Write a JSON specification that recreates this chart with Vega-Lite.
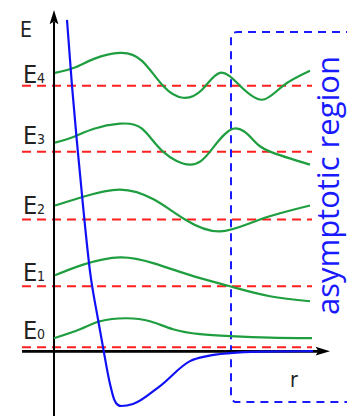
{
  "$schema": "https://vega.github.io/schema/vega-lite/v6.json",
  "width": 347,
  "height": 417,
  "autosize": {"type": "fit", "contains": "padding"},
  "padding": 0,
  "background": "white",
  "config": {"view": {"stroke": null}},
  "datasets": {
    "waves": [
      {"level": "E4", "r": 1, "E": 279}, {"level": "E4", "r": 20, "E": 284}, {"level": "E4", "r": 40, "E": 293}, {"level": "E4", "r": 66, "E": 299}, {"level": "E4", "r": 88, "E": 291}, {"level": "E4", "r": 109, "E": 266}, {"level": "E4", "r": 129, "E": 254}, {"level": "E4", "r": 148, "E": 262}, {"level": "E4", "r": 166, "E": 279}, {"level": "E4", "r": 186, "E": 266}, {"level": "E4", "r": 208, "E": 252}, {"level": "E4", "r": 229, "E": 266}, {"level": "E4", "r": 256, "E": 281},
      {"level": "E3", "r": 1, "E": 209}, {"level": "E3", "r": 20, "E": 215}, {"level": "E3", "r": 40, "E": 223}, {"level": "E3", "r": 66, "E": 228}, {"level": "E3", "r": 88, "E": 223}, {"level": "E3", "r": 109, "E": 200}, {"level": "E3", "r": 136, "E": 187}, {"level": "E3", "r": 156, "E": 200}, {"level": "E3", "r": 179, "E": 223}, {"level": "E3", "r": 199, "E": 212}, {"level": "E3", "r": 216, "E": 200}, {"level": "E3", "r": 256, "E": 187},
      {"level": "E2", "r": 1, "E": 146}, {"level": "E2", "r": 30, "E": 155}, {"level": "E2", "r": 66, "E": 162}, {"level": "E2", "r": 100, "E": 152}, {"level": "E2", "r": 131, "E": 132}, {"level": "E2", "r": 166, "E": 120}, {"level": "E2", "r": 206, "E": 132}, {"level": "E2", "r": 256, "E": 146},
      {"level": "E1", "r": 1, "E": 76}, {"level": "E1", "r": 30, "E": 87}, {"level": "E1", "r": 66, "E": 94}, {"level": "E1", "r": 100, "E": 88}, {"level": "E1", "r": 140, "E": 75}, {"level": "E1", "r": 176, "E": 65}, {"level": "E1", "r": 216, "E": 55}, {"level": "E1", "r": 256, "E": 50},
      {"level": "E0", "r": 0, "E": 13}, {"level": "E0", "r": 26, "E": 22}, {"level": "E0", "r": 46, "E": 30}, {"level": "E0", "r": 72, "E": 33}, {"level": "E0", "r": 96, "E": 30}, {"level": "E0", "r": 119, "E": 22}, {"level": "E0", "r": 146, "E": 17}, {"level": "E0", "r": 176, "E": 15}, {"level": "E0", "r": 216, "E": 13.5}, {"level": "E0", "r": 258, "E": 13}
    ],
    "potential": [
      {"r": 13, "E": 332}, {"r": 18, "E": 266}, {"r": 23, "E": 209}, {"r": 29, "E": 146}, {"r": 36, "E": 80}, {"r": 44, "E": 32}, {"r": 49, "E": 4}, {"r": 56, "E": -33}, {"r": 60, "E": -48}, {"r": 64, "E": -54}, {"r": 67, "E": -55}, {"r": 79, "E": -53}, {"r": 106, "E": -35}, {"r": 136, "E": -10}, {"r": 153, "E": -5}, {"r": 176, "E": -2}, {"r": 206, "E": -0.5}, {"r": 259, "E": 0}
    ],
    "levels": [
      {"level": "E4", "E": 266, "sub": "4", "labelE": 269},
      {"level": "E3", "E": 200, "sub": "3", "labelE": 208},
      {"level": "E2", "E": 132, "sub": "2", "labelE": 137},
      {"level": "E1", "E": 65, "sub": "1", "labelE": 70},
      {"level": "E0", "E": 4, "sub": "0", "labelE": 12}
    ],
    "box": [
      {"i": 0, "r": 300, "E": 320}, {"i": 1, "r": 183, "E": 320}, {"i": 2, "r": 179, "E": 319}, {"i": 3, "r": 177, "E": 316}, {"i": 4, "r": 177, "E": -46}, {"i": 5, "r": 178, "E": -49}, {"i": 6, "r": 181, "E": -51}, {"i": 7, "r": 300, "E": -51}
    ]
  },
  "layer": [
    {
      "data": {"name": "levels"},
      "mark": {"type": "rule", "color": "#ff1f1f", "strokeWidth": 2, "strokeDash": [9, 6]},
      "encoding": {
        "x": {"datum": -32, "type": "quantitative", "scale": {"domain": [-54, 293], "nice": false, "zero": false}, "axis": null},
        "x2": {"datum": 258},
        "y": {"field": "E", "type": "quantitative", "scale": {"domain": [-65, 352], "nice": false, "zero": false}, "axis": null}
      }
    },
    {
      "data": {"name": "box"},
      "mark": {"type": "line", "color": "#1a1aff", "strokeWidth": 2, "strokeDash": [8, 6], "clip": true},
      "encoding": {
        "x": {"field": "r", "type": "quantitative"},
        "y": {"field": "E", "type": "quantitative"},
        "order": {"field": "i", "type": "quantitative"}
      }
    },
    {
      "data": {"name": "levels"},
      "mark": {"type": "rule", "color": "black", "strokeWidth": 2},
      "encoding": {
        "x": {"datum": 0, "type": "quantitative"},
        "y": {"datum": -65, "type": "quantitative"},
        "y2": {"datum": 330}
      }
    },
    {
      "data": {"name": "levels"},
      "mark": {"type": "rule", "color": "black", "strokeWidth": 2},
      "encoding": {
        "x": {"datum": -32, "type": "quantitative"},
        "x2": {"datum": 266},
        "y": {"datum": 0, "type": "quantitative"}
      }
    },
    {
      "data": {"values": [{"axis": "E"}]},
      "mark": {"type": "point", "filled": true, "color": "black", "opacity": 1, "size": 256, "shape": "M0,-1L0.55,0.8L0,0.45L-0.55,0.8Z"},
      "encoding": {
        "x": {"datum": 0, "type": "quantitative"},
        "y": {"datum": 334, "type": "quantitative"}
      }
    },
    {
      "data": {"values": [{"axis": "r"}]},
      "mark": {"type": "point", "filled": true, "color": "black", "opacity": 1, "size": 256, "shape": "M1,0L-0.8,-0.55L-0.45,0L-0.8,0.55Z"},
      "encoding": {
        "x": {"datum": 268, "type": "quantitative"},
        "y": {"datum": 0, "type": "quantitative"}
      }
    },
    {
      "data": {"name": "waves"},
      "mark": {"type": "line", "color": "#1f9e40", "strokeWidth": 2.2, "interpolate": "natural"},
      "encoding": {
        "x": {"field": "r", "type": "quantitative"},
        "y": {"field": "E", "type": "quantitative"},
        "detail": {"field": "level"}
      }
    },
    {
      "data": {"name": "potential"},
      "mark": {"type": "line", "color": "#1010f5", "strokeWidth": 2.2, "interpolate": "monotone"},
      "encoding": {
        "x": {"field": "r", "type": "quantitative"},
        "y": {"field": "E", "type": "quantitative"}
      }
    },
    {
      "data": {"name": "levels"},
      "mark": {"type": "text", "text": "E", "align": "left", "baseline": "alphabetic", "fontSize": 25, "font": "DejaVu Sans Condensed, Liberation Sans Narrow, Liberation Sans", "color": "#222"},
      "encoding": {
        "x": {"datum": -31, "type": "quantitative"},
        "y": {"field": "labelE", "type": "quantitative"}
      }
    },
    {
      "data": {"name": "levels"},
      "mark": {"type": "text", "align": "left", "baseline": "alphabetic", "fontSize": 14, "font": "DejaVu Sans Condensed, Liberation Sans Narrow, Liberation Sans", "color": "#222", "dx": 14},
      "encoding": {
        "x": {"datum": -31, "type": "quantitative"},
        "y": {"field": "labelE", "type": "quantitative"},
        "text": {"field": "sub"}
      }
    },
    {
      "data": {"values": [{"label": "E", "r": -34, "E": 315}, {"label": "r", "r": 236, "E": -36}]},
      "mark": {"type": "text", "align": "left", "baseline": "alphabetic", "fontSize": 21, "font": "DejaVu Sans Condensed, Liberation Sans Narrow, Liberation Sans", "color": "#222"},
      "encoding": {
        "x": {"field": "r", "type": "quantitative"},
        "y": {"field": "E", "type": "quantitative"},
        "text": {"field": "label"}
      }
    },
    {
      "data": {"values": [{"label": "asymptotic region", "r": 285, "E": 166}]},
      "mark": {"type": "text", "align": "center", "baseline": "alphabetic", "angle": 270, "fontSize": 31, "font": "Open Sans", "color": "#1a1aff"},
      "encoding": {
        "x": {"field": "r", "type": "quantitative"},
        "y": {"field": "E", "type": "quantitative"},
        "text": {"field": "label"}
      }
    }
  ]
}
